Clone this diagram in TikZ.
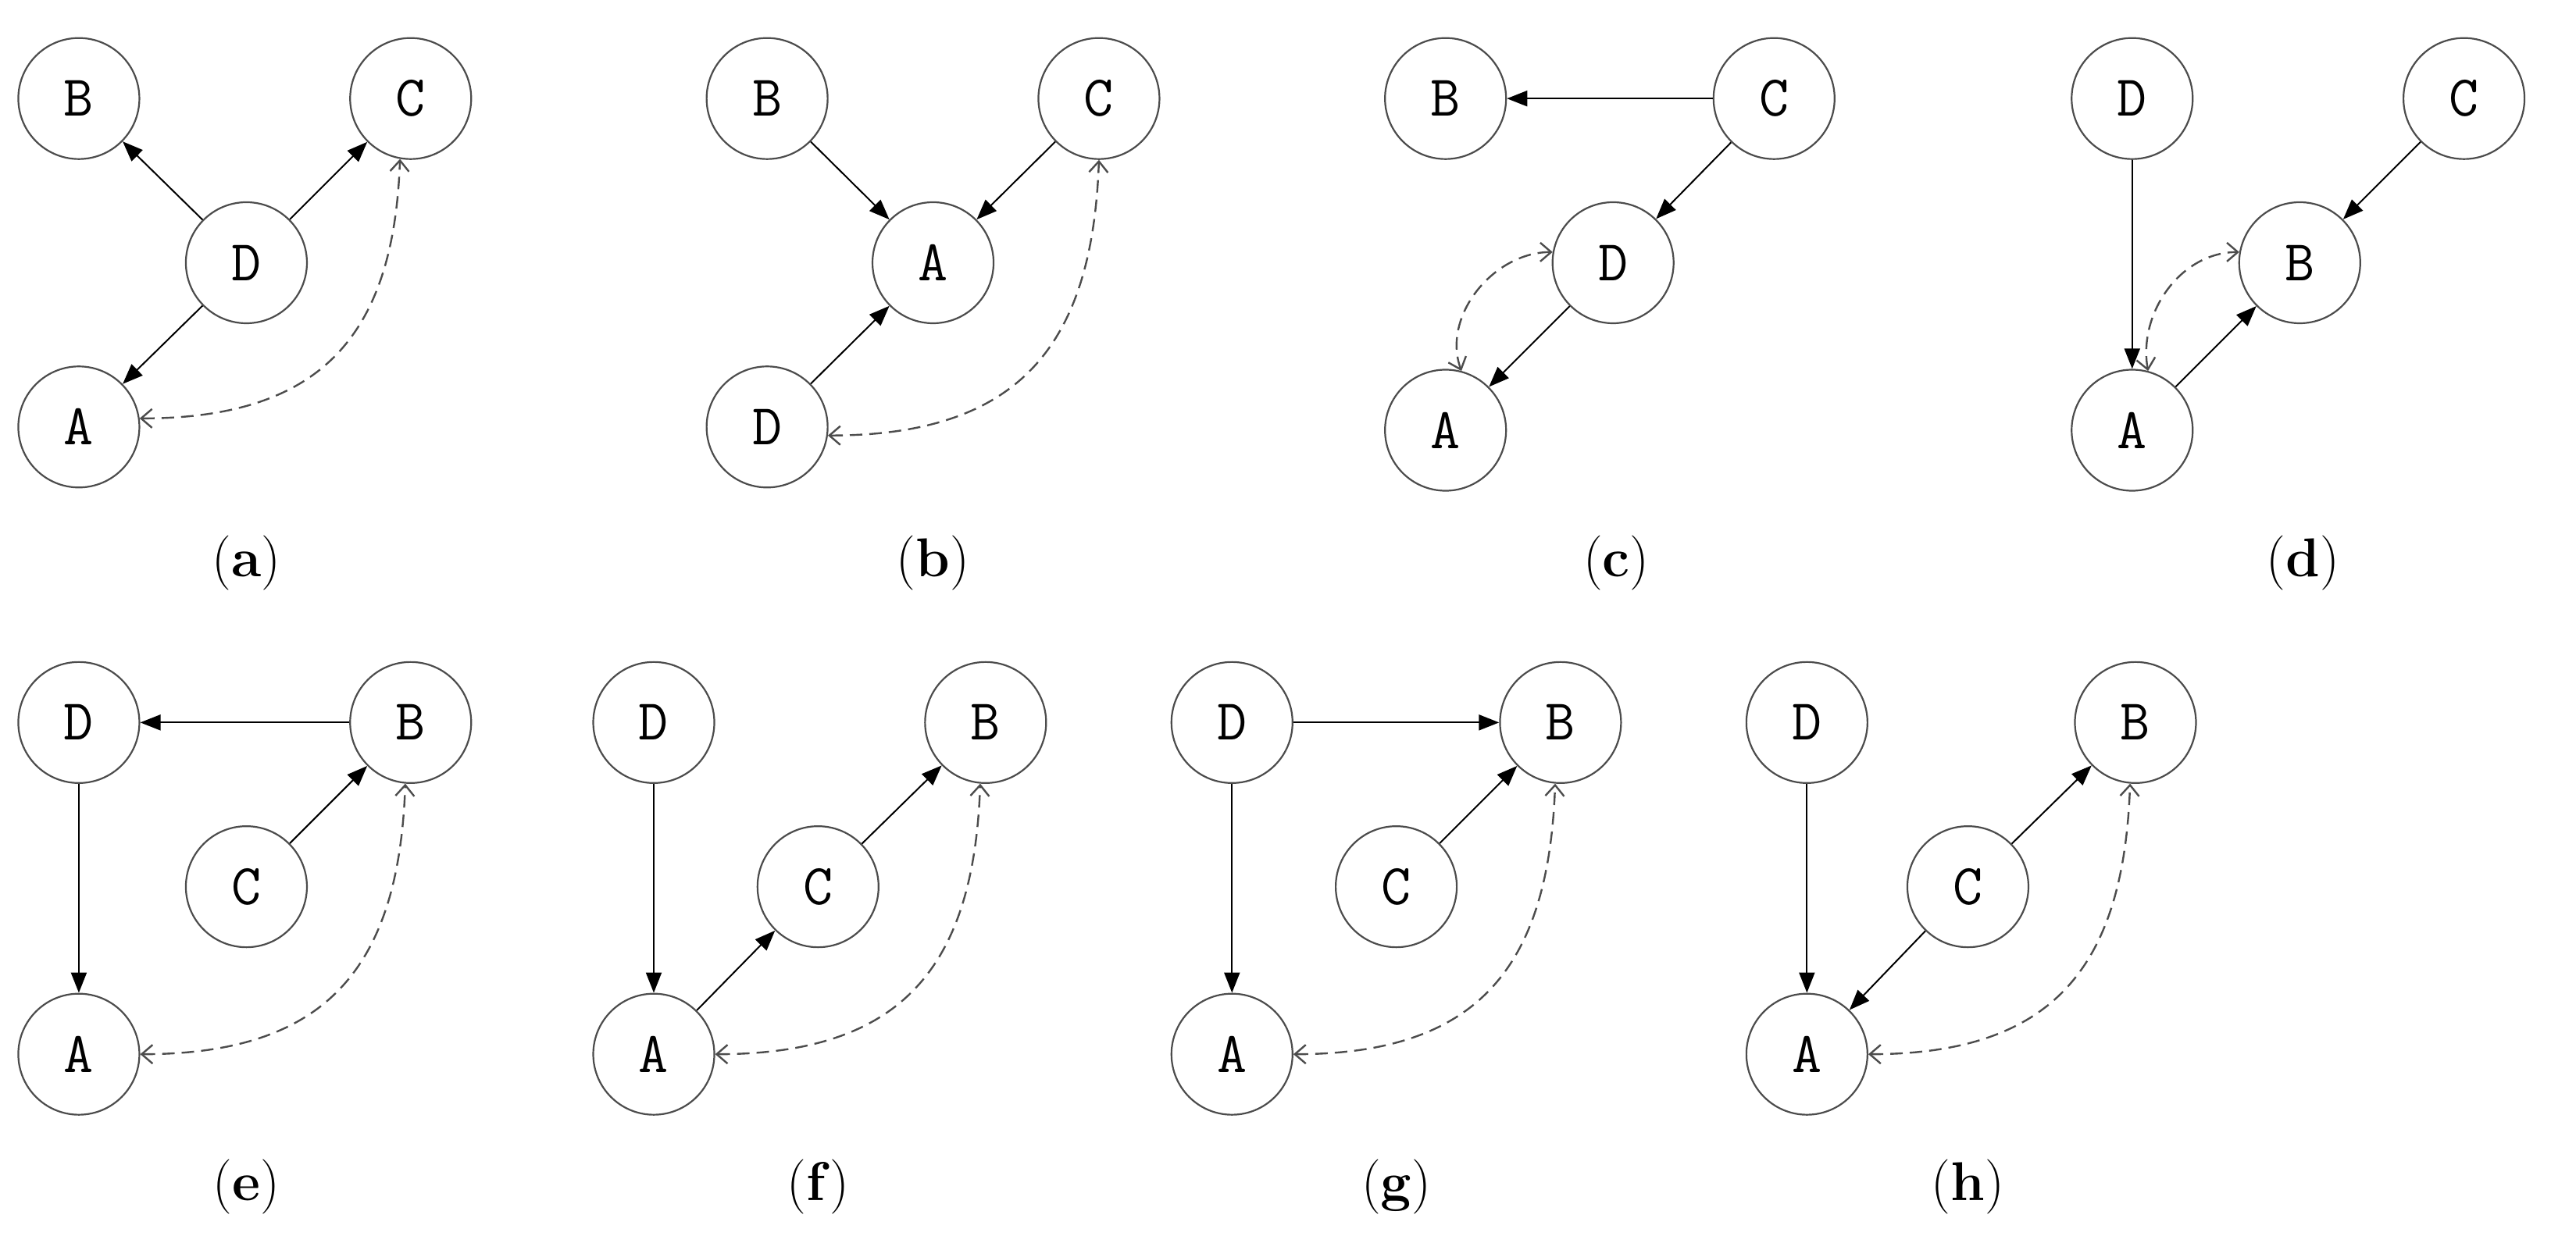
\documentclass[tikz,border=0pt]{standalone}
\usetikzlibrary{arrows.meta}
\begin{document}
\begin{tikzpicture}[x=2.103pt,y=-2.103pt,
  nd/.style={circle,draw=black!70,line width=2.2pt,minimum size=155pt,inner sep=0pt,font=\fontsize{74}{74}\selectfont\ttfamily},
  ed/.style={line width=2pt,-{Triangle[length=26pt,width=20pt]}},
  da/.style={line width=2.4pt,draw=black!70,dash pattern=on 16pt off 9pt,{Straight Barb[length=14pt,width=24pt]}-{Straight Barb[length=14pt,width=24pt]}},
  dc/.style={da,out=0,in=-92,looseness=1.25},
  lb/.style={font=\fontsize{70}{70}\selectfont}]
\useasboundingbox (0,0) rectangle (1568.2,752.3);
% (a)
\node[nd] (aB) at (48,60) {B};
\node[nd] (aC) at (250,60) {C};
\node[nd] (aD) at (150,160) {D};
\node[nd] (aA) at (48,260) {A};
\draw[ed] (aD) -- (aB); \draw[ed] (aD) -- (aC); \draw[ed] (aD) -- (aA);
\draw[dc] (aA.8) to (aC.-100);
\node[lb] (la) at (150,343) {(\textbf{a})};
% (b)
\node[nd] (bB) at (467,60) {B};
\node[nd] (bC) at (669,60) {C};
\node[nd] (bA) at (568,160) {A};
\node[nd] (bD) at (467,260) {D};
\draw[ed] (bB) -- (bA); \draw[ed] (bC) -- (bA); \draw[ed] (bD) -- (bA);
\draw[dc] (bD.-8) to (bC.-90);
\node[lb] (lb) at (568,343) {(\textbf{b})};
% (c)
\node[nd] (cB) at (880,60) {B};
\node[nd] (cC) at (1080,60) {C};
\node[nd] (cD) at (982,160) {D};
\node[nd] (cA) at (880,262) {A};
\draw[ed] (cC) -- (cB); \draw[ed] (cC) -- (cD); \draw[ed] (cD) -- (cA);
\draw[da] (cA.75) to[out=110,in=180] (cD.170);
\node[lb] (lc) at (984,343) {(\textbf{c})};
% (d)
\node[nd] (dD) at (1298,60) {D};
\node[nd] (dC) at (1500,60) {C};
\node[nd] (dB) at (1400,160) {B};
\node[nd] (dA) at (1298,262) {A};
\draw[ed] (dD) -- (dA); \draw[ed] (dC) -- (dB); \draw[ed] (dA) -- (dB);
\draw[da] (dA.75) to[out=100,in=180] (dB.170);
\node[lb] (ld) at (1402,343) {(\textbf{d})};
% (e)
\node[nd] (eD) at (48,440) {D};
\node[nd] (eB) at (250,440) {B};
\node[nd] (eC) at (150,540) {C};
\node[nd] (eA) at (48,642) {A};
\draw[ed] (eB) -- (eD); \draw[ed] (eD) -- (eA); \draw[ed] (eC) -- (eB);
\draw[dc] (eA.0) to (eB.-95);
\node[lb] (le) at (150,723) {(\textbf{e})};
% (f)
\node[nd] (fD) at (398,440) {D};
\node[nd] (fB) at (600,440) {B};
\node[nd] (fC) at (498,540) {C};
\node[nd] (fA) at (398,642) {A};
\draw[ed] (fD) -- (fA); \draw[ed] (fA) -- (fC); \draw[ed] (fC) -- (fB);
\draw[dc] (fA.0) to (fB.-95);
\node[lb] (lf) at (498,723) {(\textbf{f})};
% (g)
\node[nd] (gD) at (750,440) {D};
\node[nd] (gB) at (950,440) {B};
\node[nd] (gC) at (850,540) {C};
\node[nd] (gA) at (750,642) {A};
\draw[ed] (gD) -- (gB); \draw[ed] (gD) -- (gA); \draw[ed] (gC) -- (gB);
\draw[dc] (gA.0) to (gB.-95);
\node[lb] (lg) at (850,723) {(\textbf{g})};
% (h)
\node[nd] (hD) at (1100,440) {D};
\node[nd] (hB) at (1300,440) {B};
\node[nd] (hC) at (1198,540) {C};
\node[nd] (hA) at (1100,642) {A};
\draw[ed] (hD) -- (hA); \draw[ed] (hC) -- (hA); \draw[ed] (hC) -- (hB);
\draw[dc] (hA.0) to (hB.-95);
\node[lb] (lh) at (1198,723) {(\textbf{h})};
\end{tikzpicture}
\end{document}
